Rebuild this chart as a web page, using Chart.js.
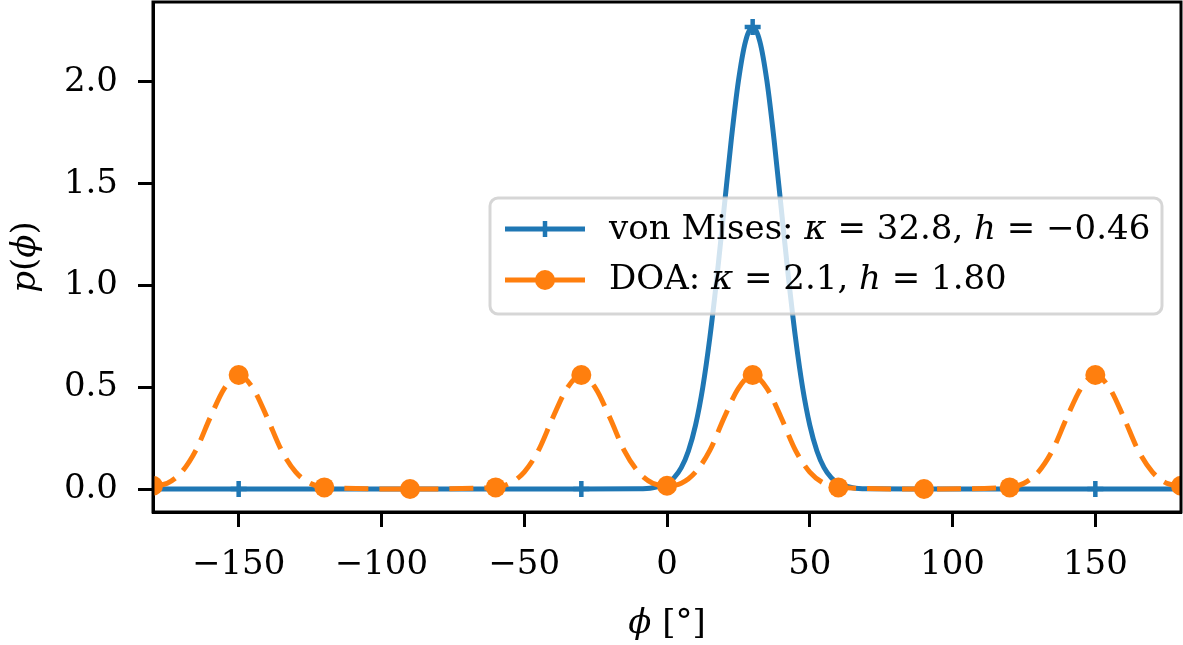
<!DOCTYPE html>
<html>
<head>
<meta charset="utf-8">
<script src="https://cdn.jsdelivr.net/npm/chart.js@4.4.1/dist/chart.umd.min.js"></script>
<style>
  html, body { margin: 0; padding: 0; background: #fff; }
  #wrap { width: 1183px; height: 645px; position: relative; }
</style>
</head>
<body>
<div id="wrap"><canvas id="chart"></canvas></div>
<script>
// von Mises curve (blue)
const blueX = [-180, -150, -120, -90, -60, -30, -10, -5, 0, 2.5, 5, 7.5, 10, 12.5, 15, 17.5, 20, 22.5, 25, 27.5,
    30, 32.5, 35, 37.5, 40, 42.5, 45, 47.5, 50, 52.5, 55, 57.5, 60, 65, 70, 90, 120, 150, 180];
const blueY = [0, 0, 0, 0, 0, 0, 0.001, 0.006, 0.028, 0.056, 0.105, 0.187, 0.314, 0.497, 0.743, 1.043, 1.379, 1.715, 2.004, 2.20,
    2.27, 2.20, 2.004, 1.715, 1.379, 1.043, 0.743, 0.497, 0.314, 0.187, 0.105, 0.056, 0.028, 0.006, 0.001, 0, 0, 0, 0];
const blueMarkX = [-150, -90, -30, 30, 90, 150];

// DOA curve (orange)
const orangeX = [-180, -175, -170, -165, -160, -155, -150, -145, -140, -135, -130, -125, -120,
    -90,
    -60, -55, -50, -45, -40, -35, -30, -25, -20, -15, -10, -5, 0,
    5, 10, 15, 20, 25, 30, 35, 40, 45, 50, 55, 60,
    90,
    120, 125, 130, 135, 140, 145, 150, 155, 160, 165, 170, 175, 180];
const orangeY = [0.016, 0.028, 0.083, 0.19, 0.35, 0.495, 0.56, 0.495, 0.35, 0.19, 0.083, 0.028, 0.008,
    0,
    0.008, 0.028, 0.083, 0.19, 0.35, 0.495, 0.56, 0.495, 0.35, 0.19, 0.083, 0.028, 0.016,
    0.028, 0.083, 0.19, 0.35, 0.495, 0.56, 0.495, 0.35, 0.19, 0.083, 0.028, 0.008,
    0,
    0.008, 0.028, 0.083, 0.19, 0.35, 0.495, 0.56, 0.495, 0.35, 0.19, 0.083, 0.028, 0.016];
const orangeMarkX = [-180, -150, -120, -90, -60, -30, 0, 30, 60, 90, 120, 150, 180];

const xTicks = [-150, -100, -50, 0, 50, 100, 150];
const yTicks = [0, 0.5, 1.0, 1.5, 2.0];

const blueLabel = [['von Mises: ', false], ['κ', true], [' = 32.8, ', false], ['h', true], [' = −0.46', false]];
const orangeLabel = [['DOA: ', false], ['κ', true], [' = 2.1, ', false], ['h', true], [' = 1.80', false]];

const BLUE = '#1f77b4';
const ORANGE = '#ff7f0e';
const FONT = "'DejaVu Serif', serif";
const FS = 34;

function drawRich(ctx, parts, x, y, size) {
    parts.forEach(([t, it]) => {
        ctx.font = (it ? 'italic ' : '') + size + 'px ' + FONT;
        ctx.fillText(t, x, y);
        x += ctx.measureText(t).width;
    });
    return x;
}

function richWidth(ctx, parts, size) {
    let w = 0;
    parts.forEach(([t, it]) => {
        ctx.font = (it ? 'italic ' : '') + size + 'px ' + FONT;
        w += ctx.measureText(t).width;
    });
    return w;
}

const extras = {
    id: 'extras',
    afterDatasetsDraw(chart) {
        const ctx = chart.ctx;
        const a = chart.chartArea;
        ctx.save();
        // frame
        ctx.strokeStyle = '#000';
        ctx.lineWidth = 3;
        ctx.strokeRect(a.left, a.top, a.right - a.left, a.bottom - a.top);

        // legend box
        ctx.beginPath();
        ctx.roundRect(490, 198, 672, 116, 8);
        ctx.fillStyle = 'rgba(255,255,255,0.8)';
        ctx.fill();
        ctx.strokeStyle = 'rgba(204,204,204,0.8)';
        ctx.lineWidth = 3;
        ctx.stroke();

        // blue handle
        ctx.strokeStyle = BLUE;
        ctx.lineWidth = 5;
        ctx.beginPath(); ctx.moveTo(505, 229); ctx.lineTo(585, 229); ctx.stroke();
        ctx.lineWidth = 4.5;
        ctx.beginPath(); ctx.moveTo(545, 221); ctx.lineTo(545, 237); ctx.stroke();
        // orange handle
        ctx.strokeStyle = ORANGE;
        ctx.lineWidth = 5;
        ctx.beginPath(); ctx.moveTo(505, 280); ctx.lineTo(585, 280); ctx.stroke();
        ctx.fillStyle = ORANGE;
        ctx.beginPath(); ctx.arc(545, 280, 10, 0, Math.PI * 2); ctx.fill();

        ctx.fillStyle = '#000';
        ctx.textBaseline = 'alphabetic';
        drawRich(ctx, blueLabel, 609, 239, FS);
        drawRich(ctx, orangeLabel, 609, 289, FS);

        // axis titles
        ctx.textBaseline = 'middle';
        const xt = [['ϕ', true], [' [°]', false]];
        drawRich(ctx, xt, (a.left + a.right) / 2 - richWidth(ctx, xt, FS) / 2, 624, FS);

        ctx.translate(26, (a.top + a.bottom) / 2);
        ctx.rotate(-Math.PI / 2);
        const yt = [['p', true], ['(', false], ['ϕ', true], [')', false]];
        drawRich(ctx, yt, -richWidth(ctx, yt, FS) / 2, 0, FS);
        ctx.restore();
    }
};

const ctx = document.getElementById('chart').getContext('2d');
new Chart(ctx, {
    type: 'line',
    data: {
        datasets: [
            {
                label: 'von Mises',
                data: blueX.map((x, i) => ({ x: x, y: blueY[i] })),
                borderColor: BLUE,
                backgroundColor: BLUE,
                borderWidth: 5,
                cubicInterpolationMode: 'monotone',
                pointStyle: 'cross',
                pointRadius: c => blueMarkX.includes(c.raw.x) ? 8 : 0,
                pointBorderWidth: 4.5,
                pointBorderColor: BLUE,
                clip: 0,
                order: 2
            },
            {
                label: 'DOA',
                data: orangeX.map((x, i) => ({ x: x, y: orangeY[i] })),
                borderColor: ORANGE,
                backgroundColor: ORANGE,
                borderWidth: 5,
                borderDash: [24, 11],
                cubicInterpolationMode: 'monotone',
                pointStyle: 'circle',
                pointRadius: c => orangeMarkX.includes(c.raw.x) ? 10 : 0,
                pointBorderWidth: 0,
                clip: 0,
                order: 1
            }
        ]
    },
    options: {
        responsive: true,
        maintainAspectRatio: false,
        animation: false,
        layout: { autoPadding: false, padding: { top: 2, right: 2, left: 0, bottom: 0 } },
        plugins: {
            legend: { display: false },
            tooltip: { enabled: false }
        },
        scales: {
            x: {
                type: 'linear',
                min: -180,
                max: 180,
                afterBuildTicks: s => { s.ticks = xTicks.map(v => ({ value: v })); },
                afterFit: s => { s.height = 133; s.paddingLeft = 0; s.paddingRight = 0; },
                grid: { drawOnChartArea: false, tickLength: 15, tickWidth: 3, tickColor: '#000' },
                border: { display: true, color: '#000', width: 3 },
                ticks: {
                    padding: 18,
                    color: '#000',
                    font: { family: FONT, size: FS },
                    maxRotation: 0,
                    callback: v => String(v).replace('-', '−')
                }
            },
            y: {
                type: 'linear',
                min: -0.113,
                max: 2.393,
                afterBuildTicks: s => { s.ticks = yTicks.map(v => ({ value: v })); },
                afterFit: s => { s.width = 153; s.paddingTop = 0; s.paddingBottom = 0; },
                grid: { drawOnChartArea: false, tickLength: 15, tickWidth: 3, tickColor: '#000' },
                border: { display: true, color: '#000', width: 3 },
                ticks: {
                    padding: 20,
                    color: '#000',
                    font: { family: FONT, size: FS },
                    callback: v => v.toFixed(1)
                }
            }
        }
    },
    plugins: [extras]
});
</script>
</body>
</html>
